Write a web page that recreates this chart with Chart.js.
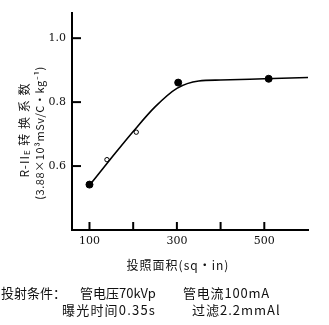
<!DOCTYPE html>
<html><head><meta charset="utf-8">
<script src="https://cdn.jsdelivr.net/npm/chart.js@4"></script>
<style>
html,body{margin:0;padding:0;background:#fff;}
#wrap{position:relative;width:329px;height:325px;}
canvas{position:absolute;left:0;top:0;}
.ft{position:absolute;font-family:"Noto Sans CJK SC";font-size:13px;color:#111;white-space:nowrap;line-height:15px;}
.ttl{position:absolute;font-family:"Noto Sans CJK SC";color:#111;white-space:nowrap;transform:translate(-50%,-50%);line-height:13px;}
.rot{transform:translate(-50%,-50%) rotate(-90deg);}
</style></head>
<body><div id="wrap"><canvas id="c" width="329" height="325"></canvas>
<div class="ttl rot" id="yt1" style="left:25px;top:130px;font-size:12px;letter-spacing:1px"></div>
<div class="ttl rot" id="yt2" style="left:39px;top:133px;font-size:11px;letter-spacing:0.6px"></div>
<div class="ttl" id="xt" style="left:178px;top:264px;font-size:12px;letter-spacing:1px"></div>
<div class="ft" style="left:1px;top:285px">投射条件：</div>
<div class="ft" style="left:80px;top:285px">管电压70kVp</div>
<div class="ft" style="left:183px;top:285px;letter-spacing:0.8px">管电流100mA</div>
<div class="ft" style="left:62px;top:302px;letter-spacing:1.2px">曝光时间0.35s</div>
<div class="ft" style="left:192px;top:302px;letter-spacing:1px">过滤2.2mmAl</div>
</div>
<script>
const curveX = [100, 150, 200, 250, 300, 350, 400, 500, 600];
const curveY = [0.54, 0.625, 0.708, 0.785, 0.843, 0.866, 0.869, 0.873, 0.877];
const filledX = [100, 303, 510];
const filledY = [0.542, 0.861, 0.873];
const openX = [140, 207];
const openY = [0.62, 0.706];
const xTicks = [100, 200, 300, 400, 500];
const xLabels = [100, 300, 500];
const yTicks = [0.6, 0.8, 1.0];
const yTitle1 = 'R-II<sub style="font-size:8px;vertical-align:-1px">E</sub> 转 换 系 数';
const yTitle2 = '(3.88×10³mSv/C·kg⁻¹)';
const xTitle = '投照面积(sq·in)';

document.getElementById('yt1').innerHTML = yTitle1;
document.getElementById('yt2').textContent = yTitle2;
document.getElementById('xt').textContent = xTitle;

const pts = (xs, ys) => xs.map((x, i) => ({x, y: ys[i]}));

const innerTicks = {
  id: 'innerTicks',
  afterDraw(chart) {
    const {ctx, scales: {x, y}} = chart;
    ctx.save();
    ctx.strokeStyle = '#000';
    ctx.lineWidth = 2;
    xTicks.forEach(v => {
      const px = x.getPixelForValue(v);
      ctx.beginPath(); ctx.moveTo(px, y.bottom); ctx.lineTo(px, y.bottom - 8); ctx.stroke();
    });
    yTicks.forEach(v => {
      const py = y.getPixelForValue(v);
      ctx.beginPath(); ctx.moveTo(x.left, py); ctx.lineTo(x.left + 9, py); ctx.stroke();
    });
    ctx.restore();
  }
};

new Chart(document.getElementById('c'), {
  type: 'scatter',
  data: {
    datasets: [
      {type: 'line', data: pts(curveX, curveY), borderColor: '#000', borderWidth: 1.6,
       pointRadius: 0, cubicInterpolationMode: 'monotone', fill: false},
      {data: pts(filledX, filledY), backgroundColor: '#000', borderColor: '#000', pointRadius: 3.5},
      {data: pts(openX, openY), backgroundColor: '#fff', borderColor: '#000', borderWidth: 1, pointRadius: 2.2}
    ]
  },
  options: {
    responsive: false, animation: false,
    layout: {padding: {left: 0, right: 21, top: 7, bottom: 52}},
    plugins: {legend: {display: false}, tooltip: {enabled: false}},
    scales: {
      x: {
        type: 'linear', min: 60, max: 600,
        afterBuildTicks: s => { s.ticks = xTicks.map(v => ({value: v})); },
        afterFit: s => { s.height = 43; },
        grid: {display: false, drawTicks: false},
        border: {display: true, color: '#000', width: 2},
        ticks: {padding: 5, color: '#111', font: {family: 'DejaVu Serif', size: 11},
          callback: v => xLabels.includes(v) ? String(v) : ''},
        title: {display: false}
      },
      y: {
        min: 0.4, max: 1.08,
        afterBuildTicks: s => { s.ticks = yTicks.map(v => ({value: v})); },
        afterFit: s => { s.width = 72; },
        grid: {display: false, drawTicks: false},
        border: {display: true, color: '#000', width: 2},
        ticks: {padding: 6, color: '#111', font: {family: 'DejaVu Serif', size: 11},
          callback: v => v.toFixed(1)},
        title: {display: false}
      }
    }
  },
  plugins: [innerTicks]
});
</script></body></html>
